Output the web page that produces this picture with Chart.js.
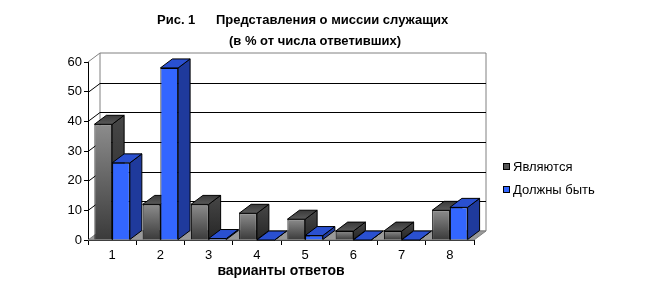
<!doctype html>
<html>
<head>
  <meta charset="utf-8" />
  <title>Представления о миссии служащих</title>
  <script src="https://cdn.jsdelivr.net/npm/chart.js@4/dist/chart.umd.min.js"></script>
  <style>
    html, body { margin: 0; padding: 0; background: #fff; }
    #chart { display: block; }
  </style>
</head>
<body>
  <canvas id="chart" width="647" height="304"></canvas>
  <script>
    // data (in % of respondents)
    const categories = ['1', '2', '3', '4', '5', '6', '7', '8'];
    const areValues = [39, 12, 12, 9, 7, 3, 3, 10];
    const shouldBeValues = [26, 58, 0.5, 0, 1.5, 0, 0, 11];
    const yTicks = [0, 10, 20, 30, 40, 50, 60];
    const seriesNames = ['Являются', 'Должны быть'];
    const titleParts = ['Рис. 1', 'Представления о миссии служащих', '(в % от числа ответивших)'];
    const xTitle = 'варианты ответов';

    const FONT = '"Liberation Sans", Arial, sans-serif';
    const DX = 12, DY = 9; // depth of the fake 3d
    const faces = [
      { front: ['#8c8c8c', '#3a3a3a'], side: ['#474747', '#262626'], top: ['#3a3a3a', '#5a5a5a'], legend: '#555555' },
      { front: ['#3366ff', '#3366ff'], side: ['#1f3a9c', '#1f3a9c'], top: ['#2a50d0', '#2a50d0'], legend: '#3366ff' },
    ];

    Chart.defaults.font.family = FONT;
    Chart.defaults.color = '#000';

    function vGrad(ctx, y0, y1, c) {
      if (!Number.isFinite(y0) || !Number.isFinite(y1) || Math.abs(y1 - y0) < 0.5) return c[1];
      const g = ctx.createLinearGradient(0, y0, 0, y1);
      g.addColorStop(0, c[0]);
      g.addColorStop(1, c[1]);
      return g;
    }

    function frontColor(idx) {
      return (c) => {
        const y = c.chart.scales.y;
        if (!y || c.raw == null) return faces[idx].front[0];
        return vGrad(c.chart.ctx, y.getPixelForValue(c.raw), y.getPixelForValue(0), faces[idx].front);
      };
    }

    function poly(ctx, pts, fill, stroke) {
      ctx.beginPath();
      ctx.moveTo(pts[0][0], pts[0][1]);
      for (let i = 1; i < pts.length; i++) ctx.lineTo(pts[i][0], pts[i][1]);
      ctx.closePath();
      if (fill) { ctx.fillStyle = fill; ctx.fill(); }
      if (stroke) { ctx.strokeStyle = stroke; ctx.lineWidth = 1; ctx.stroke(); }
    }

    const box3d = {
      id: 'box3d',
      beforeDatasetsDraw(chart) {
        const { ctx, chartArea: a } = chart;
        const ys = chart.scales.y;
        ctx.save();
        // back wall + left wall
        poly(ctx, [[a.left + DX, a.top - DY], [a.right + DX, a.top - DY], [a.right + DX, a.bottom - DY], [a.left + DX, a.bottom - DY]], '#fff', '#808080');
        ctx.strokeStyle = '#808080';
        ctx.beginPath();
        ctx.moveTo(a.left, a.top); ctx.lineTo(a.left + DX, a.top - DY);
        ctx.stroke();
        // grid lines on the walls
        ctx.strokeStyle = '#000';
        yTicks.forEach((v) => {
          if (v <= 0 || v >= ys.max) return;
          const py = Math.round(ys.getPixelForValue(v)) + 0.5;
          ctx.beginPath();
          ctx.moveTo(a.left, py);
          ctx.lineTo(a.left + DX, py - DY);
          ctx.lineTo(a.right + DX, py - DY);
          ctx.stroke();
        });
        // floor
        poly(ctx, [[a.left, a.bottom], [a.right, a.bottom], [a.right + DX, a.bottom - DY], [a.left + DX, a.bottom - DY]], '#9a9a9a', '#808080');
        // side and top faces, front faces come from chart.js itself
        categories.forEach((_, i) => {
          chart.data.datasets.forEach((ds, d) => {
            const el = chart.getDatasetMeta(d).data[i];
            if (!el) return;
            const p = el.getProps(['x', 'y', 'base', 'width'], true);
            const x0 = p.x - p.width / 2, x1 = p.x + p.width / 2;
            const f = faces[d];
            poly(ctx, [[x1, p.y], [x1 + DX, p.y - DY], [x1 + DX, p.base - DY], [x1, p.base]], vGrad(ctx, p.y - DY, p.base, f.side), '#000');
            poly(ctx, [[x0, p.y], [x1, p.y], [x1 + DX, p.y - DY], [x0 + DX, p.y - DY]], vGrad(ctx, p.y - DY, p.y, f.top), '#000');
          });
        });
        ctx.restore();
      },
      afterDraw(chart) {
        const { ctx } = chart;
        ctx.save();
        ctx.fillStyle = '#000';
        ctx.textBaseline = 'middle';
        ctx.textAlign = 'left';
        ctx.font = 'bold 13px ' + FONT;
        ctx.fillText(titleParts[0], 157, 20);
        ctx.fillText(titleParts[1], 216, 20);
        ctx.fillText(titleParts[2], 229, 41);
        // legend
        ctx.font = '13px ' + FONT;
        seriesNames.forEach((name, d) => {
          const ly = 167 + d * 23;
          ctx.fillStyle = faces[d].legend;
          ctx.fillRect(503, ly - 4, 7, 7);
          ctx.strokeStyle = '#000';
          ctx.lineWidth = 1;
          ctx.strokeRect(503.5, ly - 3.5, 6, 6);
          ctx.fillStyle = '#000';
          ctx.fillText(name, 513, ly);
        });
        ctx.restore();
      },
    };

    new Chart(document.getElementById('chart'), {
      type: 'bar',
      data: {
        labels: categories,
        datasets: [
          { label: seriesNames[0], data: areValues, backgroundColor: frontColor(0), borderColor: '#000', borderWidth: 1 },
          { label: seriesNames[1], data: shouldBeValues, backgroundColor: frontColor(1), borderColor: '#000', borderWidth: 1 },
        ],
      },
      options: {
        responsive: false,
        animation: false,
        events: [],
        categoryPercentage: 0.735,
        barPercentage: 1,
        layout: { padding: { left: 0, top: 62, right: 173, bottom: 0 } },
        plugins: { legend: { display: false }, title: { display: false }, tooltip: { enabled: false } },
        scales: {
          x: {
            afterFit: (s) => { s.height = 64; },
            grid: { drawOnChartArea: false, drawTicks: true, tickLength: 5, color: '#000', offset: true },
            border: { display: true, color: '#000' },
            ticks: { font: { size: 13 }, padding: 3, color: '#000' },
            title: { display: true, text: xTitle, font: { size: 14, weight: 'bold' }, color: '#000', padding: { top: 0, bottom: 24 } },
          },
          y: {
            min: 0, max: 60,
            afterFit: (s) => { s.width = 88; },
            afterBuildTicks: (s) => { s.ticks = yTicks.map((v) => ({ value: v })); },
            grid: { drawOnChartArea: false, drawTicks: true, tickLength: 4, color: '#000' },
            border: { display: true, color: '#000' },
            ticks: { font: { size: 13 }, padding: 2, color: '#000' },
          },
        },
      },
      plugins: [box3d],
    });
  </script>
</body>
</html>
